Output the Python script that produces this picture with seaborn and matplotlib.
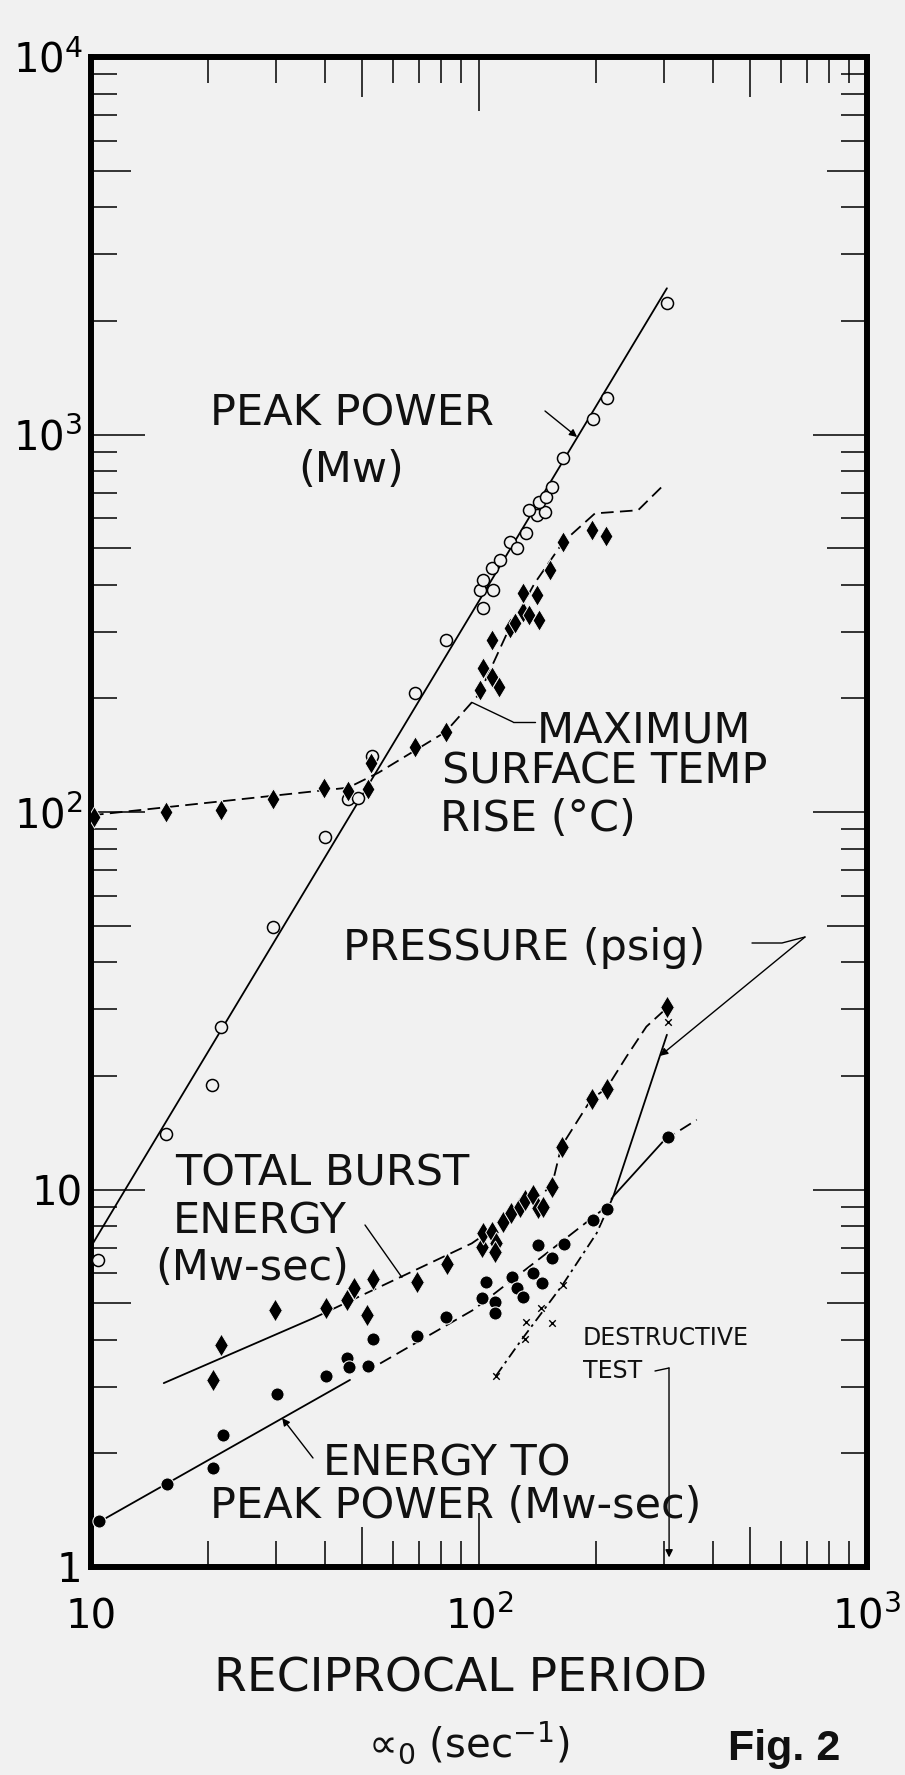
import numpy as np
import matplotlib
matplotlib.use("Agg")
import matplotlib.pyplot as plt
import seaborn as sns
from matplotlib.ticker import FixedLocator, FixedFormatter, NullFormatter
from matplotlib.lines import Line2D

# ---------------- data ----------------
# Peak power (Mw) - open circles
pp_x = [10.4, 15.6, 20.5, 21.6, 29.5, 40.1, 46.0, 48.8, 52.9, 68.4, 82.1, 100.6, 108.9,
        102.6, 102.6, 107.8, 113.3, 120.2, 125.2, 132.4, 140.8, 147.9, 134.8, 143.0,
        148.9, 154.0, 165.0, 197.0, 214.0, 305.0]
pp_y = [6.5, 14.0, 18.9, 27.0, 49.5, 85.7, 108.0, 109.0, 140.7, 207.0, 286.0, 387.0, 387.0,
        346.0, 412.0, 442.0, 465.0, 520.0, 499.0, 547.0, 612.0, 624.0, 631.0, 664.0,
        684.0, 727.0, 865.0, 1100.0, 1250.0, 2230.0]
pp_line_x = [10.0, 305.0]
pp_line_y = [7.06, 2440.0]

# Maximum surface temperature rise (deg C) - filled diamonds
mt_x = [10.2, 15.6, 21.6, 29.4, 39.9, 46.0, 51.8, 52.6, 68.4, 82.1, 100.6, 102.2, 107.8,
        112.8, 107.8, 120.2, 123.8, 129.6, 134.8, 129.6, 141.3, 143.0, 152.4, 165.0,
        195.0, 212.5]
mt_y = [97.0, 100.0, 101.0, 108.0, 115.5, 114.0, 115.0, 135.0, 149.0, 163.0, 210.0, 240.0,
        228.0, 215.0, 285.0, 307.0, 316.0, 339.0, 332.0, 380.0, 376.0, 323.0, 438.0,
        520.0, 558.0, 538.0]
mt_line_x = [10.0, 46.0, 55.0, 82.0, 100.0, 118.0, 139.0, 165.0, 199.0, 257.0, 302.0]
mt_line_y = [98.0, 116.0, 127.0, 163.0, 205.0, 297.0, 403.0, 520.0, 618.0, 630.0, 742.0]

# Total burst energy (Mw-sec) - filled diamonds
tbe_x = [20.6, 21.6, 29.8, 40.3, 45.6, 47.5, 51.5, 53.2, 69.1, 82.6, 101.9, 102.6, 107.8,
         110.8, 110.0, 115.5, 120.7, 127.6, 131.4, 138.0, 142.2, 146.5, 153.9, 163.4,
         195.2, 213.3, 305.8]
tbe_y = [3.13, 3.87, 4.80, 4.85, 5.10, 5.50, 4.65, 5.78, 5.70, 6.35, 7.06, 7.66, 7.70,
         7.20, 6.83, 8.22, 8.65, 9.00, 9.38, 9.67, 8.91, 9.00, 10.17, 12.98, 17.4, 18.5, 30.5]
tbe_solid_x = [15.4, 37.4]
tbe_solid_y = [3.07, 4.56]
tbe_dash_x = [37.4, 56.7, 95.8, 115.0, 154.0, 163.0, 195.0, 213.0, 240.0, 270.0, 301.0]
tbe_dash_y = [4.56, 5.58, 7.20, 8.20, 10.2, 13.0, 17.4, 18.5, 22.5, 27.0, 29.9]

# Energy to peak power (Mw-sec) - filled circles
ep_x = [10.5, 15.7, 20.6, 21.85, 30.1, 40.3, 45.6, 46.3, 51.8, 53.2, 69.1, 82.1, 101.9,
        104.2, 110.0, 110.0, 121.4, 125.2, 130.0, 138.0, 145.0, 142.2, 153.9, 165.6,
        197.0, 213.3, 307.6]
ep_y = [1.32, 1.66, 1.825, 2.24, 2.88, 3.21, 3.57, 3.39, 3.41, 4.01, 4.09, 4.60, 5.15,
        5.70, 5.05, 4.70, 5.87, 5.47, 5.20, 6.00, 5.64, 7.13, 6.57, 7.17, 8.30, 8.86, 13.8]
ep_solid1_x = [10.0, 46.5]
ep_solid1_y = [1.28, 3.13]
ep_dash1_x = [55.6, 96.7, 150.0, 213.0, 222.0]
ep_dash1_y = [3.46, 4.80, 6.80, 9.00, 9.60]
ep_solid2_x = [222.0, 300.0]
ep_solid2_y = [9.60, 13.5]
ep_dash2_x = [300.0, 364.0]
ep_dash2_y = [13.5, 15.3]

# Pressure (psig) - crosses
pr_x = [110.6, 131.4, 132.1, 144.2, 153.9, 164.3, 307.6]
pr_y = [3.21, 4.01, 4.46, 4.85, 4.44, 5.58, 27.8]
pr_dash_x = [110.6, 127.6, 164.0, 201.0, 222.0]
pr_dash_y = [3.21, 3.95, 5.58, 7.66, 9.60]
pr_solid_x = [222.0, 305.0]
pr_solid_y = [9.60, 25.7]

# axis ticks
x_major = [10, 100, 1000]
x_major_labels = ["10", "$10^{2}$", "$10^{3}$"]
y_major = [1, 10, 100, 1000, 10000]
y_major_labels = ["1", "10", "$10^{2}$", "$10^{3}$", "$10^{4}$"]
x_minor = [d * 10 ** e for e in (1, 2) for d in range(2, 10)]
y_minor = [d * 10 ** e for e in (0, 1, 2, 3) for d in range(2, 10)]

# ---------------- figure ----------------
sns.set_theme(style="white")
plt.rcParams["font.family"] = ["DejaVu Sans"]
plt.rcParams["mathtext.fontset"] = "dejavusans"
plt.rcParams["mathtext.default"] = "regular"

BG = "#f1f1f1"
W, H = 905, 1775
L, R, T, B = 91, 867, 57, 1567
fig = plt.figure(figsize=(W / 100, H / 100), dpi=100, facecolor=BG)
ax = fig.add_axes([L / W, 1 - B / H, (R - L) / W, (B - T) / H])
ax.set_facecolor(BG)
ax.set_xscale("log")
ax.set_yscale("log")
ax.set_xlim(10, 1000)
ax.set_ylim(1, 1e4)

LW = 1.3
def line(x, y, ls="-"):
    sns.lineplot(x=x, y=y, ax=ax, color="black", linewidth=LW, linestyle=ls,
                 sort=False, estimator=None, legend=False)

DASH = (0, (7, 3.5))
DASHDOT = (0, (6, 2.5, 1.5, 2.5))

line(pp_line_x, pp_line_y)
line(mt_line_x, mt_line_y, DASH)
line(tbe_solid_x, tbe_solid_y)
line(tbe_dash_x, tbe_dash_y, DASH)
line(ep_solid1_x, ep_solid1_y)
line(ep_dash1_x, ep_dash1_y, DASH)
line(ep_solid2_x, ep_solid2_y)
line(ep_dash2_x, ep_dash2_y, DASH)
line(pr_dash_x, pr_dash_y, DASHDOT)
line(pr_solid_x, pr_solid_y)

sns.scatterplot(x=pp_x, y=pp_y, ax=ax, marker="o", s=75, facecolor=BG,
                edgecolor="black", linewidth=1.1, zorder=5, legend=False)
sns.scatterplot(x=mt_x, y=mt_y, ax=ax, marker="d", s=120, color="black",
                edgecolor=BG, linewidth=0.7, zorder=5, legend=False)
sns.scatterplot(x=tbe_x, y=tbe_y, ax=ax, marker="d", s=135, color="black",
                edgecolor=BG, linewidth=0.7, zorder=5, legend=False)
sns.scatterplot(x=ep_x, y=ep_y, ax=ax, marker="o", s=90, color="black",
                edgecolor=BG, linewidth=0.8, zorder=5, legend=False)
sns.scatterplot(x=pr_x, y=pr_y, ax=ax, marker="x", s=22, color="black",
                linewidth=1.0, zorder=6, legend=False)

ax.set_xlabel("")
ax.set_ylabel("")

# ---------------- axes styling ----------------
for sp in ax.spines.values():
    sp.set_visible(True)
    sp.set_linewidth(4.3)
    sp.set_color("black")

ax.xaxis.set_major_locator(FixedLocator(x_major))
ax.xaxis.set_major_formatter(FixedFormatter(x_major_labels))
ax.yaxis.set_major_locator(FixedLocator(y_major))
ax.yaxis.set_major_formatter(FixedFormatter(y_major_labels))
ax.xaxis.set_minor_locator(FixedLocator(x_minor))
ax.yaxis.set_minor_locator(FixedLocator(y_minor))
ax.xaxis.set_minor_formatter(NullFormatter())
ax.yaxis.set_minor_formatter(NullFormatter())

ax.tick_params(which="both", direction="in", top=True, right=True,
               bottom=True, left=True,
               color="black", width=1.1, labelcolor="black", labelsize=29)
ax.tick_params(which="major", length=39)
ax.tick_params(which="minor", length=19)
ax.tick_params(axis="y", which="major", pad=6)
ax.tick_params(axis="x", which="major", pad=44)

for axis, locs in ((ax.xaxis, x_minor), (ax.yaxis, y_minor)):
    ticks = axis.get_minor_ticks(len(locs))
    for t, v in zip(ticks, locs):
        lead_digit = int(round(v / 10 ** np.floor(np.log10(v))))
        if lead_digit == 5:
            t.tick1line.set_markersize(29)
            t.tick2line.set_markersize(29)

for lbl in ax.get_xticklabels():
    lbl.set_verticalalignment("baseline")

# ---------------- text ----------------
def fx(px):
    return px / W

def fy(py):
    return 1 - py / H

FS = 31
texts = [
    ("PEAK POWER", 210, 425, FS),
    ("(Mw)", 298, 482, FS),
    ("MAXIMUM", 537, 742, FS),
    ("SURFACE TEMP", 442, 783, FS),
    ("RISE (°C)", 440, 831, FS),
    ("PRESSURE (psig)", 343, 960, FS),
    ("TOTAL BURST", 175, 1185, FS),
    ("ENERGY", 173, 1234, FS),
    ("(Mw-sec)", 155, 1280, FS),
    ("ENERGY TO", 323, 1475, FS),
    ("PEAK POWER (Mw-sec)", 210, 1518, FS),
    ("DESTRUCTIVE", 583, 1345, 17),
    ("TEST", 583, 1378, 17),
    ("RECIPROCAL PERIOD", 214, 1692, 34),
    ("∝$_{0}$ (sec$^{-1}$)", 368, 1757, 29),
]
for s, px, py, fs in texts:
    fig.text(fx(px), fy(py), s, fontsize=fs, color="#111111",
             ha="left", va="baseline")
fig.text(fx(728), fy(1760), "Fig. 2", fontsize=31, fontweight="bold",
         family=["Liberation Sans", "DejaVu Sans"], color="#111111",
         ha="left", va="baseline")

# ---------------- leader lines ----------------
def poly(pts):
    xs = [fx(p[0]) for p in pts]
    ys = [fy(p[1]) for p in pts]
    fig.add_artist(Line2D(xs, ys, transform=fig.transFigure, color="black", lw=1.0))

def lead(start_px, target_data, style="-|>"):
    ax.annotate("", xy=target_data, xycoords="data",
                xytext=(fx(start_px[0]), fy(start_px[1])), textcoords="figure fraction",
                arrowprops=dict(arrowstyle=style, color="black", lw=1.0,
                                mutation_scale=11, shrinkA=0, shrinkB=0),
                annotation_clip=False)

lead((545, 411), (179, 985))
poly([(535, 722), (513, 722)])
lead((513, 722), (96, 195), "-")
poly([(752, 943), (782, 943), (805, 937)])
lead((805, 937), (293, 22.6))
lead((365, 1225), (63.3, 5.85), "-")
lead((313, 1458), (31.1, 2.48))
poly([(655, 1371), (669, 1368)])
lead((669, 1368), (309, 1.06))

fig.savefig("out.png", dpi=100, facecolor=BG)
